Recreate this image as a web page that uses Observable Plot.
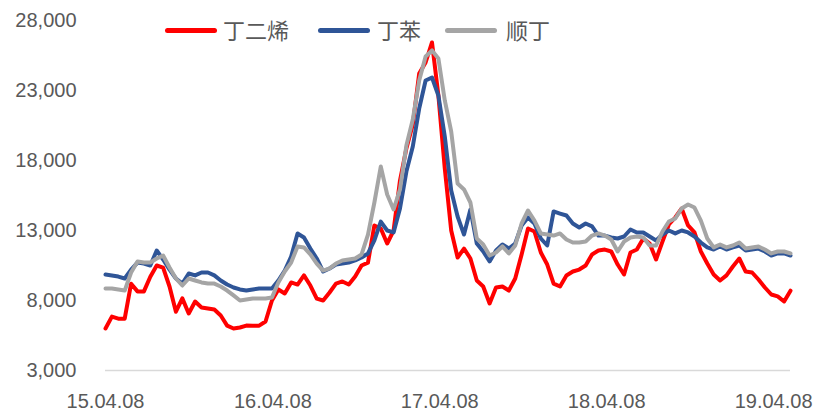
<!DOCTYPE html>
<html>
<head>
<meta charset="utf-8">
<script src="https://cdn.jsdelivr.net/npm/d3@7"></script>
<script src="https://cdn.jsdelivr.net/npm/@observablehq/plot@0.6"></script>
<style>
  html, body { margin: 0; padding: 0; background: #fff; }
  #wrap { position: relative; width: 817px; height: 411px; }
  .lg-line { position: absolute; height: 5px; border-radius: 2.5px; }
  .lg-text { position: absolute; font-family: "Noto Sans CJK SC", sans-serif; font-size: 22px; line-height: 22px; color: #595959; }
</style>
</head>
<body>
<div id="wrap"></div>
<script>
// Series names and colours
const seriesNames = ["丁二烯", "丁苯", "顺丁"];
const seriesColors = ["#FF0000", "#2F5597", "#A5A5A5"];

// Values, one every 14 days starting 2015-04-08
const butadiene = [6000,6850,6700,6700,9200,8650,8650,9700,10500,10350,
  9000,7200,8150,7070,7930,7500,7430,7360,6930,6210,
  6000,6070,6210,6200,6200,6500,8000,8790,8500,9290,
  9140,9790,9070,8140,8000,8570,9210,9360,9140,9710,
  10500,10710,13360,13140,12070,13000,16570,18860,20570,24210,
  25000,26430,22640,17430,13000,11070,11710,11000,9430,9000,
  7790,8930,9000,8710,9570,11290,13140,12930,11430,10570,
  9210,9000,9790,10070,10210,10500,11290,11570,11640,11500,
  10570,9860,11430,11640,12430,12070,10930,12210,13430,13930,
  14570,13360,12860,11500,10640,9860,9430,9790,10430,11000,
  10070,10000,9500,8930,8430,8290,7930,8700];
const ssbr = [9860,9790,9710,9570,10210,10710,10640,10500,11570,10930,
  10210,9570,9210,9930,9790,10000,10000,9790,9430,9140,
  8930,8790,8710,8790,8860,8860,8860,9430,10140,11140,
  12790,12500,11710,11000,10070,10290,10570,10640,10710,10860,
  11070,11360,12290,13640,13000,12860,14570,17210,19000,21710,
  23710,23930,22640,19710,15860,14000,12710,14500,12070,11500,
  10790,11570,12000,11710,12070,13360,13930,13500,12430,11930,
  14360,14210,14070,13500,13210,13500,13290,12640,12640,12500,
  12430,12570,13070,12860,12860,12570,12290,12710,13000,12790,
  13000,12860,12570,12140,11790,11640,11860,11640,11790,11930,
  11570,11640,11710,11500,11210,11360,11360,11210];
const br = [8860,8860,8790,8710,10000,10790,10710,10710,11000,11210,
  10360,9570,9070,9570,9430,9290,9210,9210,9000,8710,
  8360,8000,8070,8140,8140,8140,8210,9290,10070,10710,
  11860,11790,11290,10640,10140,10290,10640,10860,10930,11000,
  11290,12710,15000,17570,15570,14500,15930,19070,20930,23710,
  25430,25860,25290,22290,20070,16360,15930,15000,12430,12000,
  11210,11430,11860,11360,11930,13500,14430,13710,12790,12710,
  12640,12790,12360,12140,12140,12210,12640,12790,12640,12360,
  11500,12210,12500,12570,12500,11930,11930,12930,13640,13860,
  14570,14860,14640,13710,12430,11790,12000,11790,11930,12140,
  11710,11790,11860,11640,11360,11500,11500,11360];

// Axis ticks
const yTicks = [3000, 8000, 13000, 18000, 23000, 28000];
const xTickLabels = ["2015-04-08", "2016-04-08", "2017-04-08", "2018-04-08", "2019-04-08"];

const startDate = new Date("2015-04-08T00:00:00Z");
const stepDays = 14;
const dates = butadiene.map((_, i) => new Date(startDate.getTime() + i * stepDays * 864e5));

const rows = [];
[butadiene, ssbr, br].forEach((vals, s) => {
  vals.forEach((v, i) => rows.push({date: dates[i], value: v, series: seriesNames[s]}));
});

const numFont = "Liberation Sans, Arial, sans-serif";

const chart = Plot.plot({
  width: 817,
  height: 411,
  marginLeft: 105,
  marginRight: 27,
  marginTop: 20,
  marginBottom: 41,
  style: {fontFamily: numFont, fontSize: "20px", color: "#595959", background: "#fff"},
  x: {type: "utc", domain: [dates[0], dates[dates.length - 1]]},
  y: {domain: [3000, 28000]},
  color: {domain: seriesNames, range: seriesColors},
  marks: [
    Plot.ruleY([3000], {stroke: "#D9D9D9", strokeWidth: 1.5}),
    Plot.axisY({ticks: yTicks, tickFormat: d3.format(","), tickSize: 0, tickPadding: 29, label: null, fill: "#595959", fontSize: 20}),
    Plot.axisX({ticks: xTickLabels.map(d => new Date(d + "T00:00:00Z")), tickFormat: d3.utcFormat("%y.%m.%d"), tickSize: 0, tickPadding: 23, label: null, fill: "#595959", fontSize: 20}),
    Plot.lineY(rows, {x: "date", y: "value", z: "series", stroke: "series", strokeWidth: 4, strokeLinejoin: "round", strokeLinecap: "round"})
  ]
});

const wrap = document.getElementById("wrap");
wrap.appendChild(chart);

// Legend overlay
const legendItems = [
  {name: seriesNames[0], color: seriesColors[0], lineLeft: 165, textLeft: 223},
  {name: seriesNames[1], color: seriesColors[1], lineLeft: 318, textLeft: 377},
  {name: seriesNames[2], color: seriesColors[2], lineLeft: 445, textLeft: 506}
];
legendItems.forEach(it => {
  const ln = document.createElement("div");
  ln.className = "lg-line";
  ln.style.left = it.lineLeft + "px";
  ln.style.top = "28px";
  ln.style.width = "52px";
  ln.style.background = it.color;
  wrap.appendChild(ln);
  const tx = document.createElement("div");
  tx.className = "lg-text";
  tx.style.left = it.textLeft + "px";
  tx.style.top = "18px";
  tx.textContent = it.name;
  wrap.appendChild(tx);
});
</script>
</body>
</html>
